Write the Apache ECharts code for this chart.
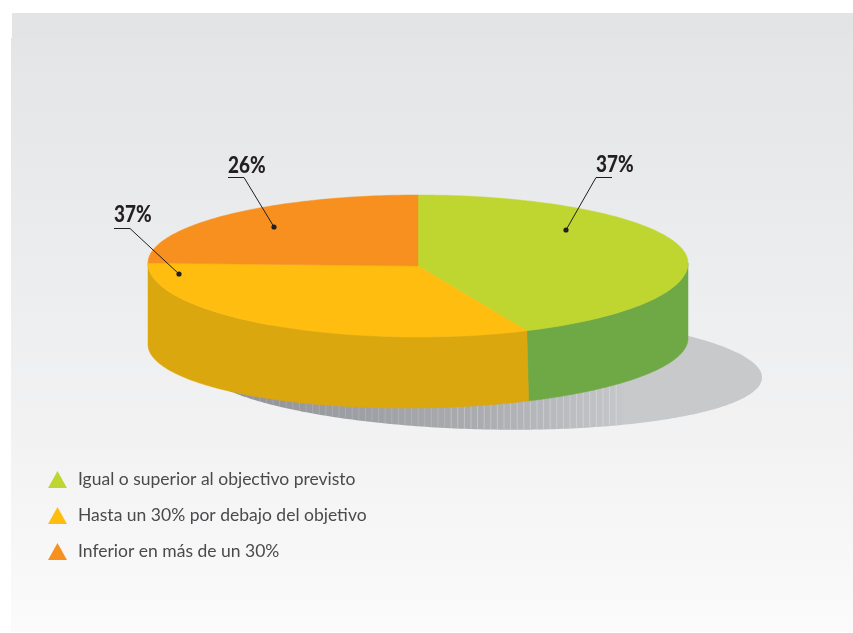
<!DOCTYPE html>
<html>
<head>
<meta charset="utf-8">
<style>html,body{margin:0;padding:0;background:#fff}#c{width:853px;height:633px}</style>
<script src="https://cdn.jsdelivr.net/npm/echarts@6/dist/echarts.min.js"></script>
</head>
<body>
<div id="c"></div>
<script>
// Data
var categories = ['Igual o superior al objectivo previsto', 'Hasta un 30% por debajo del objetivo', 'Inferior en más de un 30%'];
var printedLabels = ['37%', '37%', '26%'];            // as printed on the chart
var drawnShares = [43.4, 31.6, 25];                   // slice sizes as drawn in the picture (they differ from the printed labels)
var topColors = ['#bed62f', '#ffbe0f', '#f7901e'];
var sideColors = ['#6fa945', '#dba70f', '#c87a1a'];

// Layout of the fake-3D disc
var disc = {cx: 418, cy: 263, apexY: 266, rx: 270, ryUp: 68, ryDown: 74,
            baseCy: 341.5, baseTilt: 3.5, baseRy: 66.5, baseShift: 2};
var shadow = {cx: 480, cy: 370.3, rx: 282, ry: 59, slope: 0.0255};
var callouts = [
  {tx: 596, ty: 154, ux0: 612, ux1: 596, uy: 177.5, dx: 566, dy: 230},
  {tx: 114, ty: 204, ux0: 114, ux1: 130, uy: 228.5, dx: 179, dy: 274},
  {tx: 228, ty: 155, ux0: 228, ux1: 244, uy: 177.5, dx: 274, dy: 227}
];

function rad(d) { return d * Math.PI / 180; }
function topPt(a) {
  var c = Math.cos(rad(a));
  return [disc.cx + disc.rx * Math.sin(rad(a)), disc.cy - c * (c > 0 ? disc.ryUp : disc.ryDown)];
}
function basePt(a) {
  var s = Math.sin(rad(a)), c = Math.cos(rad(a));
  return [disc.cx + disc.rx * s - disc.baseShift * c, disc.baseCy - disc.baseTilt * s - c * disc.baseRy];
}
function sliceRange(i) {
  var total = drawnShares.reduce(function (p, v) { return p + v; }, 0), before = 0;
  for (var k = 0; k < i; k++) before += drawnShares[k];
  return [before / total * 360, (before + drawnShares[i]) / total * 360];
}
function sliceRender(i) {
  return function () {
    var r = sliceRange(i), children = [];
    var from = Math.max(r[0], 90), to = Math.min(r[1], 270);
    if (to > from) {
      var up = [], down = [];
      for (var a = from; a < to; a += 1) { up.push(topPt(a)); down.push(basePt(a)); }
      up.push(topPt(to)); down.push(basePt(to));
      children.push({type: 'polygon', shape: {points: up.concat(down.reverse())},
        style: {fill: sideColors[i], stroke: sideColors[i], lineWidth: 0.5}});
    }
    var pts = [[disc.cx, disc.apexY]];
    for (var b = r[0]; b < r[1]; b += 1) pts.push(topPt(b));
    pts.push(topPt(r[1]));
    children.push({type: 'polygon', shape: {points: pts},
      style: {fill: topColors[i], stroke: topColors[i], lineWidth: 0.5}});
    return {type: 'group', children: children};
  };
}
function shadowLower(x) {
  var t = (x - shadow.cx) / shadow.rx;
  return shadow.cy + shadow.slope * (x - shadow.cx) + shadow.ry * Math.sqrt(Math.max(0, 1 - t * t));
}
function shadowRender() {
  var pts = [], children = [];
  for (var a = 0; a < 360; a += 1) {
    var dx = shadow.rx * Math.sin(rad(a));
    pts.push([shadow.cx + dx, shadow.cy + shadow.slope * dx - shadow.ry * Math.cos(rad(a))]);
  }
  children.push({type: 'polygon', shape: {points: pts}, style: {
    fill: new echarts.graphic.LinearGradient(0, 0, 1, 0, [
      {offset: 0, color: '#8e8f94'}, {offset: 0.5, color: '#abacb0'},
      {offset: 0.74, color: '#c4c5c8'}, {offset: 0.76, color: '#c8c9cb'}, {offset: 1, color: '#c8c9cb'}
    ])}});
  for (var x = 240; x <= 622; x += 6.6) {
    children.push({type: 'line', shape: {x1: x, y1: 345, x2: x, y2: shadowLower(x) - 0.5},
      style: {stroke: 'rgba(255,255,255,' + (x > 450 ? 0.28 : 0.16) + ')', lineWidth: 1}});
  }
  return {type: 'group', children: children};
}
function calloutRender() {
  var children = [];
  callouts.forEach(function (c, i) {
    children.push({type: 'polyline',
      shape: {points: [[c.ux0, c.uy], [c.ux1, c.uy], [c.dx, c.dy]]},
      style: {stroke: '#231f20', lineWidth: 1, fill: 'none'}});
    children.push({type: 'circle', shape: {cx: c.dx, cy: c.dy, r: 2.6}, style: {fill: '#231f20'}});
    children.push({type: 'text', x: c.tx, y: c.ty, scaleX: 0.86, style: {text: printedLabels[i], x: 0, y: 0,
      fill: '#231f20', font: '900 22px Lato, "Open Sans", sans-serif'}});
  });
  return {type: 'group', children: children};
}

var series = [
  {type: 'custom', coordinateSystem: 'none', name: 'shadow', z: 1, silent: true, data: [[0]], renderItem: shadowRender}
];
categories.forEach(function (name, i) {
  series.push({type: 'custom', coordinateSystem: 'none', name: name, z: 2, silent: true,
    itemStyle: {color: topColors[i]}, data: [{value: drawnShares[i], name: name}], renderItem: sliceRender(i)});
});
series.push({type: 'custom', coordinateSystem: 'none', name: 'callouts', z: 5, silent: true, data: [[0]], renderItem: calloutRender});

var chart = echarts.init(document.getElementById('c'), null, {renderer: 'canvas'});
chart.setOption({
  animation: false,
  backgroundColor: '#ffffff',
  graphic: [{
    type: 'rect', z: -10, silent: true,
    shape: {x: 12, y: 13, width: 841, height: 26}, style: {fill: '#e3e4e6'}
  }, {
    type: 'rect', z: -10, silent: true,
    shape: {x: 11, y: 38, width: 842, height: 594},
    style: {fill: new echarts.graphic.LinearGradient(0, 0, 0, 1, [
      {offset: 0, color: '#e4e5e7'}, {offset: 0.4, color: '#ecedee'},
      {offset: 0.7, color: '#f3f3f4'}, {offset: 1, color: '#fbfbfb'}
    ])}
  }],
  legend: {
    orient: 'vertical', left: 43, top: 465.5, itemWidth: 19, itemHeight: 17, itemGap: 18, icon: 'triangle',
    selectedMode: false,
    textStyle: {fontFamily: 'Lato, "Open Sans", sans-serif', fontSize: 17.5, color: '#4a4a4d', padding: [0, 0, 0, 6]},
    data: categories.map(function (n, i) { return {name: n, itemStyle: {color: topColors[i]}}; })
  },
  series: series
});
</script>
</body>
</html>
